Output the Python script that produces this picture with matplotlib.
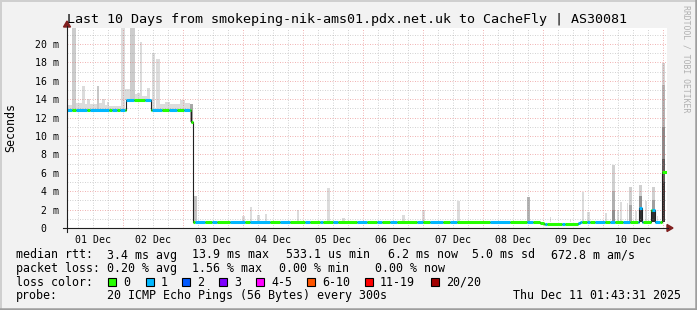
import numpy as np
import matplotlib
matplotlib.use('Agg')
import matplotlib.pyplot as plt
from matplotlib.patches import Rectangle, Polygon
from matplotlib.lines import Line2D

plt.rcParams['font.family'] = 'DejaVu Sans Mono'

W, H = 697, 310

# time axis in hours since 01 Dec 00:00
t_start, t_end = 1.72, 241.72
y_max = 21.74

day_labels = ['01 Dec', '02 Dec', '03 Dec', '04 Dec', '05 Dec',
              '06 Dec', '07 Dec', '08 Dec', '09 Dec', '10 Dec']

# median rtt (ms), each value holds from its start hour to the next start
med_start = [1.72, 25.3, 35.3, 51.3, 52.3, 191.0, 192.5, 206.1, 207.0,
             230.5, 231.7, 235.3, 236.9, 239.7]
med_val = [12.8, 13.9, 12.8, 11.5, 0.7, 0.55, 0.45, 0.55, 0.7,
           2.2, 0.7, 2.0, 0.7, 6.1]

# periods with 1 lost ping (blue), the rest is 0 loss (green)
loss1_from = [1.72, 5.3, 10.9, 19.7, 22.9, 25.3, 32.9, 35.7, 42.5, 48.5,
              52.9, 59.7, 66.9, 74.9, 86.9, 96.9, 102.9, 108.1, 117.7, 125.7,
              130.9, 141.7, 146.9, 154.9, 170.9, 185.7, 192.9, 199.7, 206.1,
              209.7, 212.9, 218.9, 224.1, 230.1, 235.7]
loss1_to = [3.7, 9.7, 18.5, 21.7, 24.9, 28.5, 35.3, 39.7, 45.7, 50.9,
            56.9, 61.7, 72.9, 82.9, 90.9, 98.9, 104.1, 110.1, 121.7, 127.7,
            133.7, 144.1, 152.1, 157.7, 178.9, 188.1, 193.7, 200.9, 207.7,
            210.9, 216.9, 220.9, 226.9, 232.1, 238.9]

# smoke (ping spread): from hour, to hour, low ms, high ms, grey level
smoke_from = [1.72, 3.72, 5.32, 7.72, 8.92, 9.72, 10.92, 13.72, 14.52, 15.72,
              16.92, 17.72, 18.52, 23.32, 24.92, 26.92, 28.92, 29.72, 30.92,
              31.72, 33.72, 34.92, 35.72, 37.32, 38.92, 40.92, 42.92, 46.92,
              48.92, 50.92,
              52.5, 71.7, 74.9, 77.7, 80.9, 93.7, 105.7, 111.7, 135.7, 143.7,
              157.7, 185.7, 194.9, 202.9, 207.7, 209.7, 216.9,
              219.7, 219.7, 219.7, 221.7, 222.9, 225.7, 226.5, 226.5, 228.9,
              230.5, 230.5, 230.5, 232.9, 235.7, 235.7, 235.7, 237.7,
              239.7, 239.7, 239.7, 239.7, 239.7]
smoke_to = [3.72, 5.32, 7.72, 8.92, 9.72, 10.92, 13.72, 14.52, 15.72, 16.92,
            17.72, 18.52, 23.32, 24.92, 26.92, 28.92, 29.72, 30.92, 31.72,
            33.72, 34.92, 35.72, 36.92, 38.92, 40.92, 42.92, 46.92, 48.92,
            50.92, 52.12,
            53.7, 72.9, 75.7, 78.9, 81.7, 94.5, 106.9, 112.9, 136.9, 144.9,
            158.9, 186.9, 195.3, 203.3, 208.5, 210.9, 217.7,
            220.9, 220.9, 220.9, 222.5, 223.7, 226.1, 227.7, 227.7, 229.7,
            231.7, 231.7, 231.7, 233.7, 236.9, 236.9, 236.9, 238.1,
            240.9, 240.9, 240.9, 240.9, 240.9]
smoke_lo = [12.8, 12.8, 12.8, 12.8, 12.8, 12.8, 12.8, 12.8, 12.8, 12.8,
            12.8, 12.8, 12.8, 12.8, 13.9, 13.9, 13.9, 13.9, 13.9,
            13.9, 13.9, 13.9, 12.8, 12.8, 12.8, 12.8, 12.8, 12.8,
            12.8, 11.5,
            0.7, 0.7, 0.7, 0.7, 0.7, 0.7, 0.7, 0.7, 0.7, 0.7,
            0.7, 0.7, 0.7, 0.7, 0.7, 0.7, 0.7,
            0.7, 0.7, 0.7, 0.7, 0.7, 0.7, 0.7, 0.7, 0.7,
            0.7, 0.7, 0.7, 0.7, 0.7, 0.7, 0.7, 0.7,
            0.7, 0.7, 0.7, 0.7, 0.7]
smoke_hi = [13.4, 21.8, 13.6, 15.4, 13.5, 14.0, 13.5, 15.4, 13.6, 14.0,
            13.4, 13.7, 13.3, 21.8, 15.1, 21.8, 14.6, 14.7, 20.25,
            14.4, 15.2, 14.0, 19.0, 18.4, 13.5, 13.7, 13.5, 13.9,
            13.6, 13.5,
            3.5, 1.34, 2.25, 1.4, 1.5, 2.0, 4.4, 1.1, 1.4, 2.0,
            2.9, 3.4, 1.2, 0.9, 3.95, 1.77, 1.6,
            6.8, 4.0, 2.0, 2.0, 2.8, 2.7, 4.5, 2.5, 1.8,
            4.7, 3.5, 2.2, 2.9, 4.5, 3.0, 2.0, 1.3,
            17.9, 15.5, 11.0, 7.5, 5.0]
smoke_grey = ['#dcdcdc', '#cccccc', '#dcdcdc', '#dcdcdc', '#dcdcdc', '#dcdcdc',
              '#dcdcdc', '#c8c8c8', '#dcdcdc', '#dcdcdc', '#dcdcdc', '#dcdcdc',
              '#dcdcdc', '#dcdcdc', '#dcdcdc', '#cccccc', '#dcdcdc', '#dcdcdc',
              '#dcdcdc', '#dcdcdc', '#dcdcdc', '#dcdcdc', '#dcdcdc', '#dcdcdc',
              '#dcdcdc', '#dcdcdc', '#dcdcdc', '#dcdcdc', '#dcdcdc', '#a8a8a8',
              '#c4c4c4', '#dcdcdc', '#dcdcdc', '#dcdcdc', '#dcdcdc', '#dcdcdc',
              '#dcdcdc', '#dcdcdc', '#dcdcdc', '#dcdcdc', '#dcdcdc', '#b4b4b4',
              '#dcdcdc', '#dcdcdc', '#dcdcdc', '#dcdcdc', '#dcdcdc',
              '#d0d0d0', '#b0b0b0', '#909090', '#dcdcdc', '#dcdcdc', '#dcdcdc',
              '#d0d0d0', '#a8a8a8', '#dcdcdc',
              '#d0d0d0', '#909090', '#303030', '#dcdcdc', '#d0d0d0', '#a0a0a0',
              '#303030', '#dcdcdc',
              '#d4d4d4', '#b4b4b4', '#8c8c8c', '#5a5a5a', '#383838']

loss_labels = ['0', '1', '2', '3', '4-5', '6-10', '11-19', '20/20']
loss_colors = ['#26ff00', '#00b8ff', '#0059ff', '#7e00ff', '#ff00ff',
               '#ff5500', '#ff0000', '#a10000']


def fx(x):
    return x / W


def fy(y):
    return 1 - y / H


fig = plt.figure(figsize=(W / 100, H / 100), dpi=100)
fig.patch.set_facecolor('#f2f2f2')

# frame shading like rrdtool
fig.add_artist(Line2D([fx(0.5), fx(0.5)], [0, 1], color='#cfcfcf', lw=1.4))
fig.add_artist(Line2D([0, 1], [fy(0.5), fy(0.5)], color='#cfcfcf', lw=1.4))
fig.add_artist(Line2D([fx(696), fx(696)], [0, 1], color='#9e9e9e', lw=1.8))
fig.add_artist(Line2D([0, 1], [fy(309), fy(309)], color='#9e9e9e', lw=1.8))

ax = fig.add_axes([fx(67), fy(228), 600 / W, 200 / H])
ax.set_facecolor('white')
ax.set_xlim(t_start, t_end)
ax.set_ylim(0, y_max)
for s in ax.spines.values():
    s.set_visible(False)

# smoke
for a, b, lo, hi, c in zip(smoke_from, smoke_to, smoke_lo, smoke_hi, smoke_grey):
    ax.add_patch(Rectangle((a, lo), b - a, hi - lo, facecolor=c,
                           edgecolor='none', zorder=1))

# grid
minor_x = np.arange(0, 250, 6)
major_x = np.arange(0, 250, 24)
for x in minor_x:
    if x % 24 and t_start < x < t_end:
        ax.axvline(x, color='#8f8f8f', alpha=0.55, lw=0.6,
                   ls=(0, (1, 2)), zorder=2)
for x in major_x:
    if t_start < x < t_end:
        ax.axvline(x, color='#de5050', alpha=0.6, lw=0.6,
                   ls=(0, (1, 2)), zorder=2)
for y in range(1, 22):
    if y % 2:
        ax.axhline(y, color='#8f8f8f', alpha=0.55, lw=0.6,
                   ls=(0, (1, 2)), zorder=2)
    else:
        ax.axhline(y, color='#de5050', alpha=0.6, lw=0.6,
                   ls=(0, (1, 2)), zorder=2)

# median line: thin dark step line, then loss coloured segments
ends = med_start[1:] + [t_end]
sx = []
sy = []
for a, b, v in zip(med_start, ends, med_val):
    sx += [a, b]
    sy += [v, v]
ax.plot(sx, sy, color='#202020', lw=0.8, zorder=3)

cuts = sorted(set(med_start + loss1_from + loss1_to + [t_end]))
for a, b in zip(cuts[:-1], cuts[1:]):
    if b <= a:
        continue
    mid = (a + b) / 2
    i = np.searchsorted(med_start, mid) - 1
    v = med_val[i]
    blue = any(f <= mid < t for f, t in zip(loss1_from, loss1_to))
    ax.plot([a, b], [v, v], color=loss_colors[1] if blue else loss_colors[0],
            lw=2.2, solid_capstyle='butt', zorder=4)

# ticks
ax.set_xticks(np.arange(12, 240, 24))
ax.set_xticklabels(day_labels)
ax.tick_params(axis='x', length=0, pad=5, labelsize=7.1, colors='black')
ax.set_yticks(np.arange(0, 21, 2))
ax.set_yticklabels(['0  '] + ['%d m' % v for v in range(2, 21, 2)])
ax.tick_params(axis='y', length=0, pad=6, labelsize=7.1, colors='black')

# axes lines and arrows
fig.add_artist(Line2D([fx(63), fx(668)], [fy(228), fy(228)], color='#1f1f1f', lw=0.8))
fig.add_artist(Line2D([fx(67), fx(67)], [fy(232), fy(26)], color='#1f1f1f', lw=0.8))
fig.add_artist(Polygon([[fx(667), fy(224.5)], [fx(673), fy(228)], [fx(667), fy(231.5)]],
                       closed=True, color='#801f1f'))
fig.add_artist(Polygon([[fx(63.5), fy(27)], [fx(67), fy(21)], [fx(70.5), fy(27)]],
                       closed=True, color='#801f1f'))

# titles
fig.text(fx(67), fy(19), 'Last 10 Days from smokeping-nik-ams01.pdx.net.uk to CacheFly | AS30081',
         fontsize=9.6, ha='left', va='center')
fig.text(fx(11), fy(128), 'Seconds', fontsize=8.4, rotation=90, ha='center', va='center')
fig.text(fx(686), fy(59), 'RRDTOOL / TOBI OETIKER', fontsize=5.9, rotation=270,
         ha='center', va='center', color='#b0b0b0')

# legend
rows = [255, 268.3, 282.3, 295.7]
row1 = [(16, 'median rtt:'), (107, '3.4 ms avg'), (192, '13.9 ms max'),
        (286, '533.1 us min'), (388, '6.2 ms now'), (472, '5.0 ms sd'),
        (551, '672.8 m am/s')]
row2 = [(16, 'packet loss:'), (107, '0.20 % avg'), (192, '1.56 % max'),
        (279, '0.00 % min'), (375, '0.00 % now')]
row4 = [(16, 'probe:'), (107, '20 ICMP Echo Pings (56 Bytes) every 300s'),
        (513, 'Thu Dec 11 01:43:31 2025')]
for y, row in zip([rows[0], rows[1], rows[3]], [row1, row2, row4]):
    for x, s in row:
        fig.text(fx(x), fy(y), s, fontsize=8.4, ha='left', va='center')

fig.text(fx(16), fy(rows[2]), 'loss color:', fontsize=8.4, ha='left', va='center')
box_x = [108, 146, 182, 219, 256, 307, 365, 431]
for bx, lab, col in zip(box_x, loss_labels, loss_colors):
    fig.add_artist(Rectangle((fx(bx), fy(rows[2] + 4)), 8 / W, 8 / H,
                             facecolor=col, edgecolor='black', lw=0.8))
    fig.text(fx(bx + 15), fy(rows[2]), lab, fontsize=8.4, ha='left', va='center')

plt.savefig('out.png', dpi=100, facecolor=fig.get_facecolor())
